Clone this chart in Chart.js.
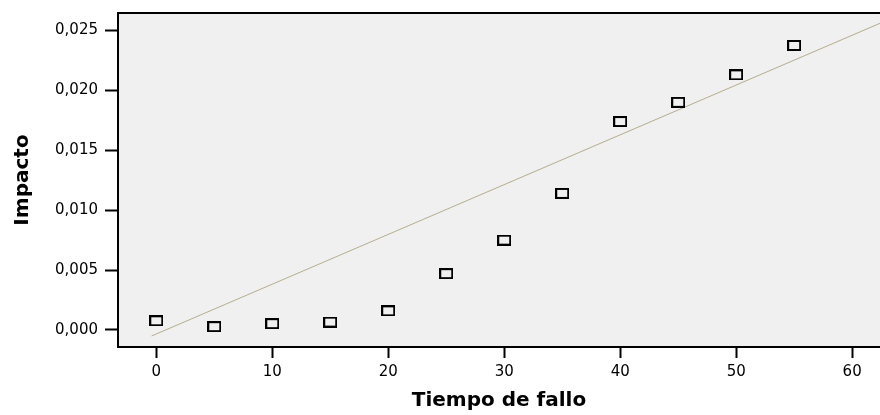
<!DOCTYPE html>
<html>

<head>
    <title>Impacto vs Tiempo de fallo</title>
    <script src="https://cdn.jsdelivr.net/npm/chart.js"></script>
    <style>
        body {
            margin: 0;
            padding: 0;
            background-color: #ffffff;
        }

        .chart-container {
            width: 880px;
            height: 415px;
        }
    </style>
</head>

<body>
    <div class="chart-container">
        <canvas id="myChart"></canvas>
    </div>

    <script>
        const tiempo = [0, 5, 10, 15, 20, 25, 30, 35, 40, 45, 50, 55];
        const impacto = [0.00077, 0.00028, 0.00053, 0.00066, 0.0016, 0.0047, 0.0075, 0.0114, 0.0174, 0.0190, 0.0213, 0.02375];

        // Fitted line, end points
        const lineaX = [-0.4, 62.4];
        const lineaY = [-0.0005, 0.0256];

        // Axis ticks
        const xTicks = [0, 10, 20, 30, 40, 50, 60];
        const yTicks = [0, 0.005, 0.010, 0.015, 0.020, 0.025];

        Chart.defaults.font.family = "'DejaVu Sans', sans-serif";
        Chart.defaults.color = '#000';

        // hollow square marker, slightly wider than tall
        const marker = document.createElement('canvas');
        marker.width = 14;
        marker.height = 11;
        const mctx = marker.getContext('2d');
        mctx.strokeStyle = '#000';
        mctx.lineWidth = 2;
        mctx.strokeRect(1, 1, 12, 9);

        // grey plot background + top border
        const plotFrame = {
            id: 'plotFrame',
            beforeDraw(chart) {
                const { ctx, chartArea: a } = chart;
                ctx.save();
                ctx.fillStyle = '#f0f0f0';
                ctx.fillRect(a.left, a.top, a.right - a.left, a.bottom - a.top);
                ctx.strokeStyle = '#000';
                ctx.lineWidth = 2;
                ctx.beginPath();
                ctx.moveTo(a.left, a.top);
                ctx.lineTo(a.right, a.top);
                ctx.stroke();
                ctx.restore();
            }
        };

        const ctx = document.getElementById('myChart').getContext('2d');
        const myChart = new Chart(ctx, {
            type: 'scatter',
            data: {
                datasets: [{
                    label: 'Impacto',
                    data: tiempo.map((x, i) => ({ x: x, y: impacto[i] })),
                    pointStyle: marker,
                    pointRadius: 7,
                    order: 1
                }, {
                    type: 'line',
                    label: 'Lineal',
                    data: lineaX.map((x, i) => ({ x: x, y: lineaY[i] })),
                    borderColor: '#b5ad8c',
                    borderWidth: 1,
                    pointRadius: 0,
                    fill: false,
                    order: 2
                }]
            },
            options: {
                responsive: true,
                maintainAspectRatio: false,
                animation: false,
                layout: {
                    autoPadding: false,
                    padding: { top: 13, right: 0, left: 0, bottom: 0 }
                },
                plugins: {
                    legend: { display: false },
                    tooltip: { enabled: false }
                },
                scales: {
                    x: {
                        type: 'linear',
                        min: -3.3,
                        max: 62.4,
                        afterFit: s => {
                            s.height = 68;
                            s.paddingLeft = 0;
                            s.paddingRight = 0;
                        },
                        afterBuildTicks: s => { s.ticks = xTicks.map(v => ({ value: v })); },
                        grid: {
                            drawOnChartArea: false,
                            drawTicks: true,
                            tickLength: 11,
                            tickWidth: 2,
                            tickColor: '#000'
                        },
                        border: { display: true, color: '#000', width: 2 },
                        ticks: {
                            font: { size: 15 },
                            padding: 5,
                            maxRotation: 0,
                            callback: v => String(v)
                        },
                        title: {
                            display: true,
                            text: 'Tiempo de fallo',
                            font: { size: 20, weight: 'bold' },
                            padding: { top: 3, bottom: 2 }
                        }
                    },
                    y: {
                        type: 'linear',
                        min: -0.00142,
                        max: 0.02646,
                        afterFit: s => {
                            s.width = 118;
                            s.paddingTop = 0;
                            s.paddingBottom = 0;
                        },
                        afterBuildTicks: s => { s.ticks = yTicks.map(v => ({ value: v })); },
                        grid: {
                            drawOnChartArea: false,
                            drawTicks: true,
                            tickLength: 13,
                            tickWidth: 2,
                            tickColor: '#000'
                        },
                        border: { display: true, color: '#000', width: 2 },
                        ticks: {
                            font: { size: 15 },
                            padding: 7,
                            callback: v => v.toFixed(3).replace('.', ',')
                        },
                        title: {
                            display: true,
                            text: 'Impacto',
                            font: { size: 20, weight: 'bold' },
                            padding: { top: 11, bottom: 0 }
                        }
                    }
                }
            },
            plugins: [plotFrame]
        });
    </script>
</body>

</html>
